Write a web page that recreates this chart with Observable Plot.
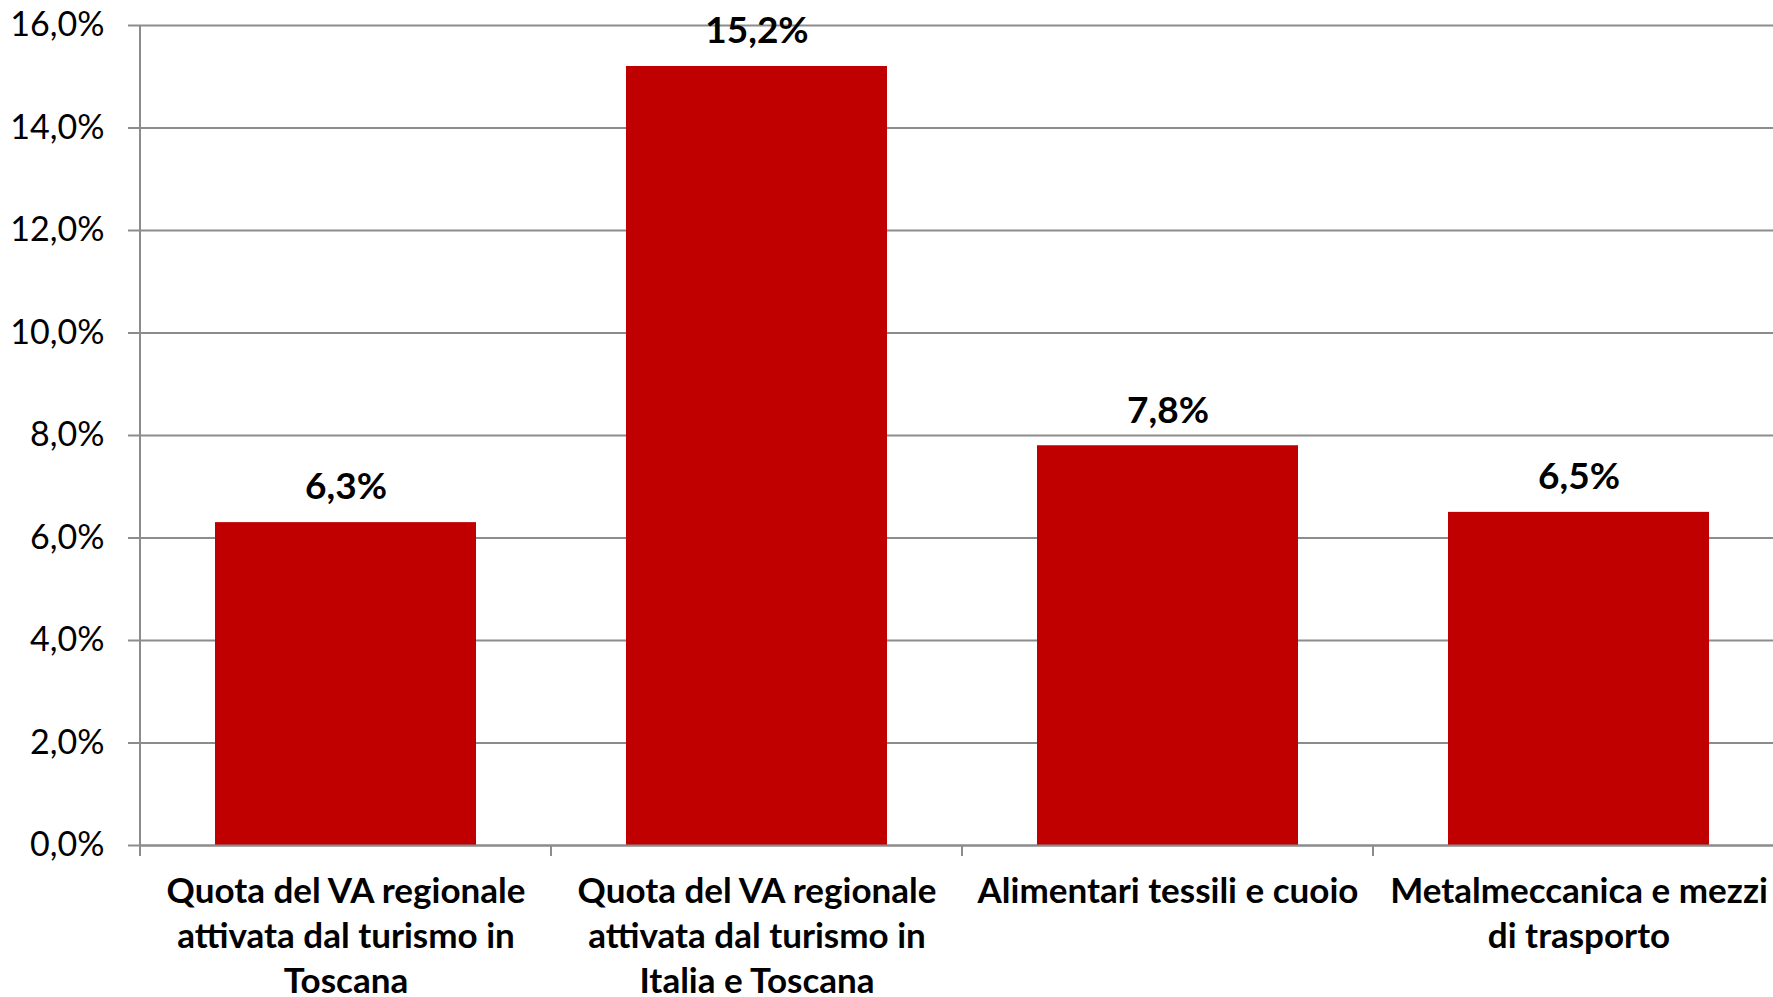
<!DOCTYPE html>
<html>
<head>
<meta charset="utf-8">
<script src="https://cdn.jsdelivr.net/npm/d3@7"></script>
<script src="https://cdn.jsdelivr.net/npm/@observablehq/plot@0.6"></script>
<style>
  html, body { margin: 0; padding: 0; background: #fff; overflow: hidden; }
</style>
</head>
<body>
<div id="chart"></div>
<script>
const categories = [
  "Quota del VA regionale attivata dal turismo in Toscana",
  "Quota del VA regionale attivata dal turismo in Italia e Toscana",
  "Alimentari tessili e cuoio",
  "Metalmeccanica e mezzi di trasporto"
];
const categoryLabels = [
  "Quota del VA regionale\nattivata dal turismo in\nToscana",
  "Quota del VA regionale\nattivata dal turismo in\nItalia e Toscana",
  "Alimentari tessili e cuoio",
  "Metalmeccanica e mezzi\ndi trasporto"
];
const values = [6.3, 15.2, 7.8, 6.5];
const yTicks = [0, 2, 4, 6, 8, 10, 12, 14, 16];

const fmt1 = v => v.toFixed(1).replace(".", ",") + "%";
const gray = "#8c8c8c";
const FONT = "Lato, 'Open Sans', sans-serif";

const labelOf = new Map(categories.map((c, i) => [c, categoryLabels[i]]));
const valueOf = new Map(categories.map((c, i) => [c, values[i]]));

// vertical axis line + category boundary ticks
function boundaryTicks(index, scales, values, dimensions) {
  const x = scales.x, y = scales.y;
  const step = x(categories[1]) - x(categories[0]);
  const bw = typeof x.bandwidth === "function" ? x.bandwidth() : x.bandwidth;
  const gap = (step - bw) / 2;
  const y0 = y(0);
  const g = d3.create("svg:g").attr("stroke", gray).attr("stroke-width", 2);
  categories.forEach((c, i) => {
    const bx = x(c) - gap;
    g.append("line")
      .attr("x1", bx).attr("x2", bx)
      .attr("y1", i === 0 ? y(yTicks[yTicks.length - 1]) : y0)
      .attr("y2", y0 + 11);
  });
  return g.node();
}

const chart = Plot.plot({
  width: 1773,
  height: 997,
  marginLeft: 139,
  marginRight: -12,
  marginTop: 25,
  marginBottom: 152,
  style: { fontFamily: FONT, background: "#fff", color: "#000" },
  x: { domain: categories, paddingInner: 0.366, paddingOuter: 0.183, axis: null },
  y: { domain: [0, 16], axis: null },
  marks: [
    Plot.gridY(yTicks, { stroke: gray, strokeOpacity: 1, strokeWidth: 2 }),
    Plot.axisY({
      ticks: yTicks,
      tickSize: 11,
      tickPadding: 24,
      tickFormat: fmt1,
      fontSize: 34,
      stroke: gray,
      strokeWidth: 2,
      fill: "#000",
      label: null
    }),
    Plot.barY(categories, { x: d => d, y: d => valueOf.get(d), fill: "#C00000" }),
    Plot.ruleY([0], { stroke: gray, strokeWidth: 2 }),
    boundaryTicks,
    Plot.text(categories, {
      x: d => d,
      y: d => valueOf.get(d),
      text: d => fmt1(valueOf.get(d)),
      dy: -35,
      lineAnchor: "middle",
      fontSize: 37,
      fontWeight: "bold",
      fill: "#000"
    }),
    Plot.text(categories, {
      x: d => d,
      frameAnchor: "bottom",
      text: d => labelOf.get(d),
      lineAnchor: "top",
      dy: 25,
      lineHeight: 1.29,
      fontSize: 35,
      fontWeight: "bold",
      fill: "#000"
    })
  ]
});
document.getElementById("chart").appendChild(chart);
</script>
</body>
</html>
